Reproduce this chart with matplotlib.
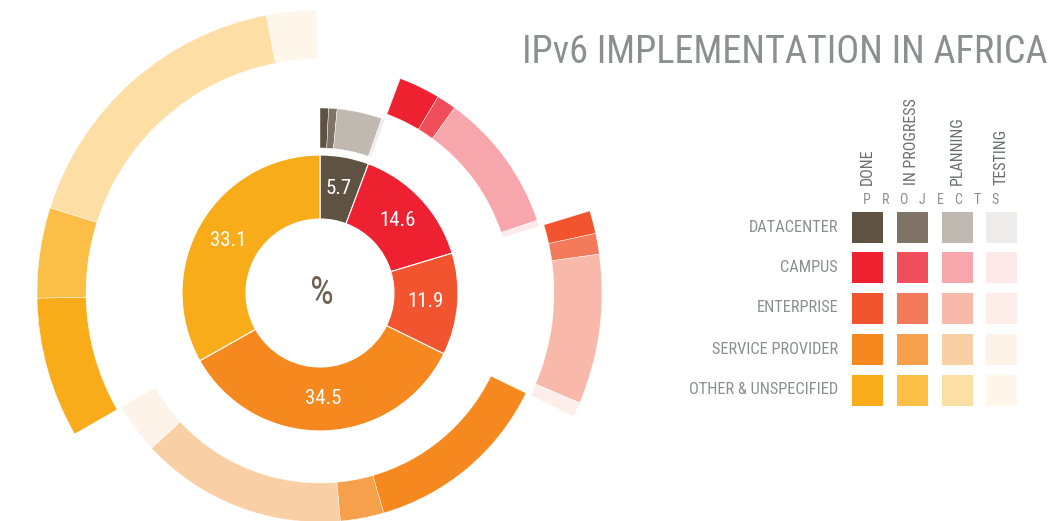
import numpy as np
import matplotlib
matplotlib.use('Agg')
import matplotlib.pyplot as plt
from matplotlib.patches import Wedge, Rectangle
from matplotlib import font_manager

#Pick a narrow font if one is installed
names = {f.name for f in font_manager.fontManager.ttflist}
narrow = 'DejaVu Sans'
for name in ['Roboto Condensed', 'Liberation Sans Narrow', 'Open Sans Condensed', 'Roboto']:
    if name in names:
        narrow = name
        break
plt.rcParams['font.family'] = [narrow, 'DejaVu Sans']

#Data: share of each segment (%) and split of projects within each segment (%)
segments = ['DATACENTER', 'CAMPUS', 'ENTERPRISE', 'SERVICE PROVIDER', 'OTHER & UNSPECIFIED']
shares = [5.7, 14.6, 11.9, 34.5, 33.1]
statuses = ['DONE', 'IN PROGRESS', 'PLANNING', 'TESTING']
done = [13, 20, 11, 38.6, 24.2]
in_progress = [13, 9.5, 10, 8.9, 15.6]
planning = [69, 67.5, 72, 42.2, 51.6]
testing = [5, 3, 7, 10.3, 8.6]

#Colours per segment: done, in progress, planning, testing
colors = [
    ['#605243', '#7f7366', '#bfb9b2', '#eeecea'],
    ['#ee2130', '#f04e5a', '#f7a6ac', '#fde9ea'],
    ['#f1542f', '#f37a5a', '#f9b9aa', '#fdeeea'],
    ['#f5891f', '#f7a04b', '#f9cfa6', '#fef3e9'],
    ['#f9ac19', '#fbbf47', '#fddfa5', '#fef6e8'],
]

#Outer radius and ring width of each segment's project ring (pixels)
ring = [(185, 40), (229, 38), (282, 48), (229, 39), (283, 49)]

W, H = 1060, 521
cx, cy = 320, H - 293
fig = plt.figure(figsize=(W / 100, H / 100), dpi=100)
ax = fig.add_axes([0, 0, 1, 1])

#Inner donut
ax.pie(shares, radius=138, center=(cx, cy), startangle=90, counterclock=False,
       colors=[c[0] for c in colors],
       wedgeprops=dict(width=64, edgecolor='white', linewidth=0.8))

starts = np.concatenate([[0], np.cumsum(shares)[:-1]]) * 3.6
spans = np.array(shares) * 3.6
for i in range(len(shares)):
    mid = starts[i] + spans[i] / 2
    ang = np.deg2rad(90 - mid)
    ax.text(cx + 106 * np.cos(ang), cy + 106 * np.sin(ang), f'{shares[i]:.1f}',
            color='white', fontsize=15, ha='center', va='center')

    #Outer ring split by project status
    parts = np.array([done[i], in_progress[i], planning[i], testing[i]])
    edges = starts[i] + np.concatenate([[0], np.cumsum(parts / parts.sum())]) * spans[i]
    r, w = ring[i]
    for j in range(4):
        ax.add_patch(Wedge((cx, cy), r, 90 - edges[j + 1], 90 - edges[j], width=w,
                           facecolor=colors[i][j], edgecolor='white', linewidth=0.3))

ax.text(cx + 2, cy, '%', color='#6f6152', fontsize=27, ha='center', va='center')

#Title
ax.text(1048, H - 63, 'IPv6 IMPLEMENTATION IN AFRICA', color='#8c8e90', fontsize=27.5,
        ha='right', va='baseline')

#Legend grid
col_x = [852, 897, 942, 986]
row_y = [227, 267, 308, 349, 390]
for i, seg in enumerate(segments):
    ax.text(838, H - row_y[i], seg, color='#8c8e90', fontsize=11.8, ha='right', va='center')
    for j in range(4):
        ax.add_patch(Rectangle((col_x[j], H - row_y[i] - 15.5), 31, 31,
                               facecolor=colors[i][j], edgecolor='none'))

for j, st in enumerate(statuses):
    ax.text(col_x[j] + 15, H - 185, st, color='#6d6e71', fontsize=11.5, rotation=90,
            ha='center', va='bottom')

for k, ch in enumerate('PROJECTS'):
    ax.text(867 + k * 18.3, H - 200, ch, color='#8c8e90', fontsize=10, ha='center', va='center')

ax.set_xlim(0, W)
ax.set_ylim(0, H)
ax.set_aspect('auto')
ax.axis('off')
fig.savefig('out.png', dpi=100)
